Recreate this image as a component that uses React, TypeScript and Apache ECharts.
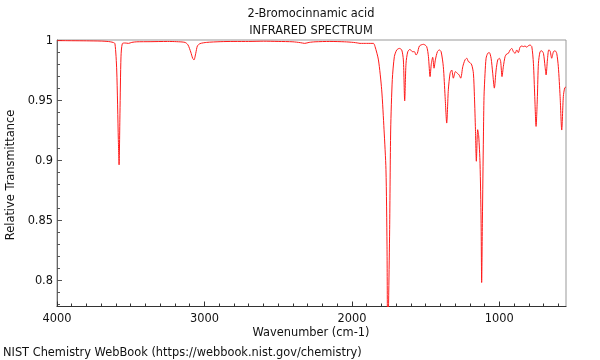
import React, { useEffect, useRef } from "react";
import * as echarts from "echarts";

const titleLines = ["2-Bromocinnamic acid", "INFRARED SPECTRUM"];
const xAxisName = "Wavenumber (cm-1)";
const yAxisName = "Relative Transmittance";
const footer = "NIST Chemistry WebBook (https://webbook.nist.gov/chemistry)";

const xMajorTicks = [1000, 2000, 3000, 4000];
const xMinorTicks = [600, 700, 800, 900, 1100, 1200, 1300, 1400, 1500, 1600, 1700, 1800, 1900, 2100, 2200, 2300, 2400, 2500, 2600, 2700, 2800, 2900, 3100, 3200, 3300, 3400, 3500, 3600, 3700, 3800, 3900];
const yMajorTicks = [0.8, 0.85, 0.9, 0.95, 1];
const yMinorTicks = [0.78, 0.79, 0.81, 0.82, 0.83, 0.84, 0.86, 0.87, 0.88, 0.89, 0.91, 0.92, 0.93, 0.94, 0.96, 0.97, 0.98, 0.99];

const wavenumbers = [
  4000, 3900, 3800, 3700, 3650, 3620, 3607, 3595, 3584, 3579, 3573, 3566, 3557, 3538, 3515, 3493, 3459, 3369, 3250, 3188,
  3132, 3112, 3093, 3080, 3071, 3059, 3048, 3030, 2985, 2894, 2800, 2700, 2600, 2500, 2400, 2350, 2320, 2290, 2250, 2150,
  2050, 1990, 1960, 1945, 1900, 1854, 1843, 1820, 1798, 1782, 1769, 1762, 1757, 1750, 1744, 1737, 1726, 1712, 1696, 1678,
  1662, 1651, 1642, 1633, 1621, 1606, 1590, 1576, 1565, 1556, 1542, 1515, 1493, 1481, 1470, 1461, 1452, 1443, 1434, 1420,
  1407, 1395, 1380, 1368, 1357, 1346, 1334, 1323, 1312, 1298, 1285, 1273, 1262, 1248, 1233, 1221, 1210, 1199, 1187, 1176,
  1169, 1162, 1156, 1147, 1140, 1131, 1124, 1120, 1115, 1108, 1104, 1097, 1090, 1079, 1068, 1056, 1045, 1034, 1022, 1011,
  1000, 991, 982, 973, 961, 950, 939, 927, 916, 905, 893, 882, 871, 860, 848, 837, 826, 814, 803, 792,
  780, 769, 760, 751, 742, 735, 724, 713, 701, 690, 683, 674, 665, 656, 645, 633, 622, 611, 600, 588,
  577, 566, 557, 548
];
const transmittance = [
  0.9995, 0.9994, 0.9993, 0.9991, 0.9987, 0.998, 0.997, 0.975, 0.917, 0.896, 0.939, 0.986, 0.997, 0.9975, 0.9972, 0.998, 0.9985, 0.9986, 0.9988, 0.9986,
  0.998, 0.996, 0.99, 0.9848, 0.9834, 0.9889, 0.995, 0.997, 0.998, 0.9986, 0.9988, 0.9988, 0.999, 0.9988, 0.9985, 0.9978, 0.9972, 0.998, 0.9985, 0.9988,
  0.9985, 0.998, 0.9975, 0.9972, 0.9972, 0.9972, 0.9945, 0.9834, 0.9585, 0.9252, 0.892, 0.83, 0.74, 0.79, 0.842, 0.925, 0.967, 0.9862, 0.9917, 0.993,
  0.9917, 0.9834, 0.9493, 0.9806, 0.9903, 0.9922, 0.9903, 0.9903, 0.9875, 0.9889, 0.995, 0.9964, 0.9945, 0.9862, 0.9695, 0.9806, 0.9856, 0.9765, 0.9834, 0.9903,
  0.9917, 0.9903, 0.9778, 0.953, 0.9308, 0.9585, 0.9723, 0.975, 0.9682, 0.9737, 0.9723, 0.9709, 0.9682, 0.9778, 0.9834, 0.9848, 0.982, 0.9812, 0.9792, 0.9723,
  0.953, 0.9252, 0.899, 0.9253, 0.92, 0.897, 0.85, 0.798, 0.85, 0.92, 0.953, 0.9723, 0.9848, 0.9889, 0.9895, 0.9848, 0.9723, 0.9599, 0.975, 0.9834,
  0.9848, 0.982, 0.9695, 0.9778, 0.9862, 0.9884, 0.9889, 0.9917, 0.993, 0.9903, 0.9889, 0.9917, 0.9895, 0.994, 0.995, 0.9945, 0.995, 0.994, 0.9953, 0.9958,
  0.9945, 0.9806, 0.953, 0.928, 0.953, 0.9806, 0.9903, 0.991, 0.9889, 0.9778, 0.9709, 0.9834, 0.9917, 0.991, 0.9848, 0.9903, 0.991, 0.9889, 0.9778, 0.953,
  0.925, 0.953, 0.96, 0.961
];

const FONT = "'DejaVu Sans', sans-serif";
const FS = 11.4;
const TXT = "#111";

export default function App() {
  const ref = useRef<HTMLDivElement>(null);
  useEffect(() => {
    if (!ref.current) return;
    const chart = echarts.init(ref.current, null, { renderer: "svg" });
    const data = wavenumbers.map((w, i) => [w, transmittance[i]]);
    const xBase = { type: "value", min: 548, max: 4000, inverse: true, position: "bottom", splitLine: { show: false } };
    const yBase = { type: "value", min: 0.778, max: 1, position: "left", splitLine: { show: false } };
    chart.setOption({
      animation: false,
      grid: {
        left: 57, right: 34, top: 40, bottom: 53.5,
        show: true, borderColor: "#999", borderWidth: 1,
        containLabel: false, outerBoundsMode: "none",
      },
      xAxis: [
        {
          ...xBase,
          axisLine: { show: true, lineStyle: { color: "#333", width: 1 } },
          axisTick: { show: true, inside: true, length: 5, customValues: xMajorTicks, lineStyle: { color: "#333" } },
          axisLabel: { show: true, customValues: xMajorTicks, margin: 6, color: TXT, fontSize: FS, fontFamily: FONT, formatter: (v: number) => String(v) },
        },
        {
          ...xBase,
          axisLine: { show: false },
          axisTick: { show: true, inside: true, length: 3, customValues: xMinorTicks, lineStyle: { color: "#333" } },
          axisLabel: { show: false },
        },
      ],
      yAxis: [
        {
          ...yBase,
          axisLine: { show: true, lineStyle: { color: "#666", width: 1 } },
          axisTick: { show: true, inside: true, length: 5, customValues: yMajorTicks, lineStyle: { color: "#555" } },
          axisLabel: { show: true, customValues: yMajorTicks, margin: 4, color: TXT, fontSize: FS, fontFamily: FONT, formatter: (v: number) => String(v) },
        },
        {
          ...yBase,
          axisLine: { show: false },
          axisTick: { show: true, inside: true, length: 3, customValues: yMinorTicks, lineStyle: { color: "#555" } },
          axisLabel: { show: false },
        },
      ],
      series: [
        {
          type: "line",
          xAxisIndex: 0,
          yAxisIndex: 0,
          data,
          showSymbol: false,
          smooth: 0.25,
          clip: true,
          lineStyle: { color: "#ff1a1a", width: 1 },
        },
      ],
      graphic: [
        { type: "text", x: 311, y: 13, style: { text: titleLines[0], fontSize: FS, fontFamily: FONT, fill: TXT, align: "center", verticalAlign: "middle" } },
        { type: "text", x: 311, y: 30, style: { text: titleLines[1], fontSize: FS, fontFamily: FONT, fill: TXT, align: "center", verticalAlign: "middle" } },
        { type: "text", x: 311, y: 332, style: { text: xAxisName, fontSize: FS, fontFamily: FONT, fill: TXT, align: "center", verticalAlign: "middle" } },
        { type: "text", x: 10, y: 175, rotation: Math.PI / 2, style: { text: yAxisName, fontSize: FS, fontFamily: FONT, fill: TXT, align: "center", verticalAlign: "middle" } },
        { type: "text", x: 3, y: 352, style: { text: footer, fontSize: FS, fontFamily: FONT, fill: TXT, align: "left", verticalAlign: "middle" } },
      ],
    });
    return () => chart.dispose();
  }, []);
  return <div ref={ref} style={{ position: "fixed", left: 0, top: 0, width: 600, height: 360 }} />;
}
